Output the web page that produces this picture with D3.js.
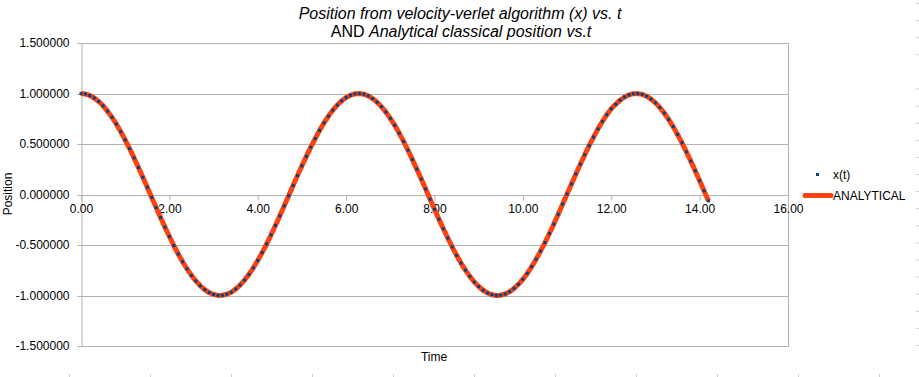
<!DOCTYPE html>
<html>
<head>
<meta charset="utf-8">
<script src="https://cdn.jsdelivr.net/npm/d3@7"></script>
<style>
  body { margin: 0; background: #fff; }
  svg { display: block; font-family: "Liberation Sans", Arial, sans-serif; }
</style>
</head>
<body>
<svg width="919" height="377"></svg>
<script>
//data
const times = [
  0.0, 0.1, 0.2, 0.3, 0.4, 0.5, 0.6, 0.7, 0.8, 0.9,
  1.0, 1.1, 1.2, 1.3, 1.4, 1.5, 1.6, 1.7, 1.8, 1.9,
  2.0, 2.1, 2.2, 2.3, 2.4, 2.5, 2.6, 2.7, 2.8, 2.9,
  3.0, 3.1, 3.2, 3.3, 3.4, 3.5, 3.6, 3.7, 3.8, 3.9,
  4.0, 4.1, 4.2, 4.3, 4.4, 4.5, 4.6, 4.7, 4.8, 4.9,
  5.0, 5.1, 5.2, 5.3, 5.4, 5.5, 5.6, 5.7, 5.8, 5.9,
  6.0, 6.1, 6.2, 6.3, 6.4, 6.5, 6.6, 6.7, 6.8, 6.9,
  7.0, 7.1, 7.2, 7.3, 7.4, 7.5, 7.6, 7.7, 7.8, 7.9,
  8.0, 8.1, 8.2, 8.3, 8.4, 8.5, 8.6, 8.7, 8.8, 8.9,
  9.0, 9.1, 9.2, 9.3, 9.4, 9.5, 9.6, 9.7, 9.8, 9.9,
  10.0, 10.1, 10.2, 10.3, 10.4, 10.5, 10.6, 10.7, 10.8, 10.9,
  11.0, 11.1, 11.2, 11.3, 11.4, 11.5, 11.6, 11.7, 11.8, 11.9,
  12.0, 12.1, 12.2, 12.3, 12.4, 12.5, 12.6, 12.7, 12.8, 12.9,
  13.0, 13.1, 13.2, 13.3, 13.4, 13.5, 13.6, 13.7, 13.8, 13.9,
  14.0, 14.1, 14.2
];

const verletX = [
  1.000, 0.995, 0.980, 0.955, 0.921, 0.878, 0.825, 0.765, 0.697, 0.622,
  0.540, 0.454, 0.362, 0.268, 0.170, 0.071, -0.029, -0.129, -0.227, -0.323,
  -0.416, -0.505, -0.589, -0.666, -0.737, -0.801, -0.857, -0.904, -0.942, -0.971,
  -0.990, -0.999, -0.998, -0.987, -0.967, -0.936, -0.897, -0.848, -0.791, -0.726,
  -0.654, -0.575, -0.490, -0.401, -0.307, -0.211, -0.112, -0.012, 0.088, 0.187,
  0.284, 0.378, 0.469, 0.554, 0.635, 0.709, 0.776, 0.835, 0.886, 0.927,
  0.960, 0.983, 0.997, 1.000, 0.993, 0.977, 0.950, 0.914, 0.869, 0.816,
  0.754, 0.685, 0.608, 0.526, 0.438, 0.346, 0.251, 0.153, 0.054, -0.046,
  -0.146, -0.244, -0.339, -0.431, -0.519, -0.602, -0.679, -0.749, -0.811, -0.866,
  -0.911, -0.948, -0.975, -0.992, -1.000, -0.997, -0.985, -0.962, -0.930, -0.889,
  -0.839, -0.781, -0.714, -0.641, -0.561, -0.476, -0.386, -0.293, -0.195, -0.095,
  0.004, 0.104, 0.203, 0.300, 0.394, 0.484, 0.569, 0.650, 0.723, 0.790,
  0.849, 0.893, 0.934, 0.965, 0.986, 0.998, 0.999, 0.991, 0.973, 0.945,
  0.907, 0.861, 0.806, 0.743, 0.672, 0.595, 0.512, 0.423, 0.330, 0.235,
  0.137, 0.037, -0.063
];

const analyticalX = [
  1.000, 0.995, 0.980, 0.955, 0.921, 0.878, 0.825, 0.765, 0.697, 0.622,
  0.540, 0.454, 0.362, 0.268, 0.170, 0.071, -0.029, -0.129, -0.227, -0.323,
  -0.416, -0.505, -0.589, -0.666, -0.737, -0.801, -0.857, -0.904, -0.942, -0.971,
  -0.990, -0.999, -0.998, -0.987, -0.967, -0.936, -0.897, -0.848, -0.791, -0.726,
  -0.654, -0.575, -0.490, -0.401, -0.307, -0.211, -0.112, -0.012, 0.088, 0.187,
  0.284, 0.378, 0.469, 0.554, 0.635, 0.709, 0.776, 0.835, 0.886, 0.927,
  0.960, 0.983, 0.997, 1.000, 0.993, 0.977, 0.950, 0.914, 0.869, 0.816,
  0.754, 0.685, 0.608, 0.526, 0.438, 0.346, 0.251, 0.153, 0.054, -0.046,
  -0.146, -0.244, -0.339, -0.431, -0.519, -0.602, -0.679, -0.749, -0.811, -0.866,
  -0.911, -0.948, -0.975, -0.992, -1.000, -0.997, -0.985, -0.962, -0.930, -0.889,
  -0.839, -0.781, -0.714, -0.641, -0.561, -0.476, -0.386, -0.293, -0.195, -0.095,
  0.004, 0.104, 0.203, 0.300, 0.394, 0.484, 0.569, 0.650, 0.723, 0.790,
  0.849, 0.893, 0.934, 0.965, 0.986, 0.998, 0.999, 0.991, 0.973, 0.945,
  0.907, 0.861, 0.806, 0.743, 0.672, 0.595, 0.512, 0.423, 0.330, 0.235,
  0.137, 0.037, -0.063
];

const xTicks = [0, 2, 4, 6, 8, 10, 12, 14, 16];
const yTicks = [-1.5, -1.0, -0.5, 0, 0.5, 1.0, 1.5];

//set up
const svg = d3.select('svg');
const grey = '#b3b3b3';
const orange = '#ff420e';
const blue = '#004586';

const plotLeft = 81, plotRight = 788, plotTop = 43, plotBottom = 346;

const x = d3.scaleLinear().domain([0, 16]).range([plotLeft, plotRight]);
const y = d3.scaleLinear().domain([-1.5, 1.5]).range([plotBottom, plotTop]);

//gridlines
svg.append('g')
  .selectAll('line')
  .data(yTicks)
  .join('line')
  .attr('x1', plotLeft)
  .attr('x2', plotRight)
  .attr('y1', d => Math.round(y(d)) + 0.5)
  .attr('y2', d => Math.round(y(d)) + 0.5)
  .attr('stroke', grey);

//plot frame
svg.append('line')
  .attr('x1', plotRight + 0.5).attr('x2', plotRight + 0.5)
  .attr('y1', plotTop).attr('y2', plotBottom + 1)
  .attr('stroke', grey);

//y axis
const yAxis = svg.append('g')
  .attr('transform', `translate(${plotLeft + 0.5},0)`)
  .call(d3.axisLeft(y).tickValues(yTicks).tickSize(4).tickPadding(8));
yAxis.select('.domain').attr('stroke', grey);
yAxis.selectAll('.tick line').attr('stroke', grey);
yAxis.selectAll('.tick').attr('transform', d => `translate(0,${Math.round(y(d)) + 0.5})`);
yAxis.selectAll('text')
  .attr('font-size', 12)
  .attr('font-family', '"Liberation Sans", Arial, sans-serif')
  .attr('fill', '#000')
  .text(d => d3.format('.6f')(d).replace('\u2212', '-'));

//x axis at zero
const xAxis = svg.append('g')
  .attr('transform', `translate(0,${Math.round(y(0)) + 0.5})`)
  .call(d3.axisBottom(x).tickValues(xTicks).tickFormat(d3.format('.2f')).tickSize(5).tickPadding(4));
xAxis.select('.domain').remove();
xAxis.selectAll('.tick line').attr('stroke', grey);
xAxis.selectAll('text')
  .attr('font-size', 12)
  .attr('font-family', '"Liberation Sans", Arial, sans-serif')
  .attr('fill', '#000');

//series
const pts = times.map((t, i) => ({ t, v: verletX[i], a: analyticalX[i] }));

svg.append('path')
  .datum(pts)
  .attr('fill', 'none')
  .attr('stroke', orange)
  .attr('stroke-width', 5)
  .attr('stroke-linejoin', 'round')
  .attr('d', d3.line().x(d => x(d.t)).y(d => y(d.a)));

svg.append('g')
  .selectAll('rect')
  .data(pts)
  .join('rect')
  .attr('x', d => x(d.t) - 1.5)
  .attr('y', d => y(d.v) - 1.5)
  .attr('width', 3)
  .attr('height', 3)
  .attr('fill', blue);

//titles
const title = svg.append('text')
  .attr('text-anchor', 'middle')
  .attr('font-size', 16)
  .attr('fill', '#000');
title.append('tspan')
  .attr('x', 460).attr('y', 19)
  .attr('font-style', 'italic')
  .text('Position from velocity-verlet algorithm (x) vs. t');
const t2 = title.append('tspan').attr('x', 461).attr('y', 37);
t2.append('tspan').text('AND ');
t2.append('tspan').attr('font-style', 'italic').text('Analytical classical position vs.t');

svg.append('text')
  .attr('x', 434).attr('y', 361)
  .attr('text-anchor', 'middle')
  .attr('font-size', 12)
  .text('Time');

svg.append('text')
  .attr('transform', 'translate(12,194) rotate(-90)')
  .attr('text-anchor', 'middle')
  .attr('font-size', 12)
  .text('Position');

//legend
const legend = svg.append('g');
legend.append('rect')
  .attr('x', 816).attr('y', 173).attr('width', 3).attr('height', 3)
  .attr('fill', blue);
legend.append('text')
  .attr('x', 833).attr('y', 179)
  .attr('font-size', 12)
  .text('x(t)');
legend.append('line')
  .attr('x1', 805).attr('x2', 831)
  .attr('y1', 195.5).attr('y2', 195.5)
  .attr('stroke', orange)
  .attr('stroke-width', 5)
  .attr('stroke-linecap', 'round');
legend.append('text')
  .attr('x', 833).attr('y', 200)
  .attr('font-size', 12)
  .text('ANALYTICAL');

//page marks at the edges
svg.append('g')
  .selectAll('line')
  .data(d3.range(11))
  .join('line')
  .attr('x1', i => 69.5 + i * 81)
  .attr('x2', i => 69.5 + i * 81)
  .attr('y1', 374).attr('y2', 377)
  .attr('stroke', '#cccccc');

svg.append('g')
  .selectAll('line')
  .data(d3.range(21).filter(i => i !== 4))
  .join('line')
  .attr('x1', 916).attr('x2', 919)
  .attr('y1', i => 3.5 + i * 17.1)
  .attr('y2', i => 3.5 + i * 17.1)
  .attr('stroke', '#cccccc');
</script>
</body>
</html>
